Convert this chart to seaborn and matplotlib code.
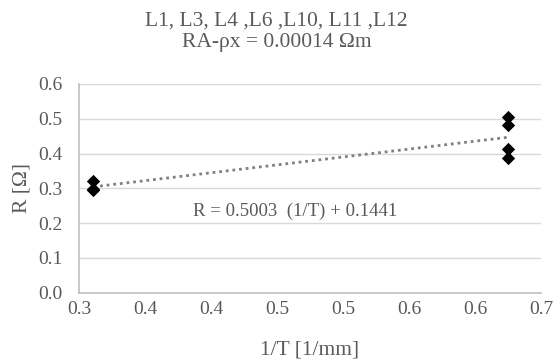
import numpy as np
import pandas as pd
import matplotlib
matplotlib.use("Agg")
import matplotlib.pyplot as plt
import seaborn as sns

# data
inv_t = [0.3125, 0.3125, 0.3125, 0.671, 0.671, 0.671, 0.671]
resistance = [0.321, 0.298, 0.294, 0.505, 0.482, 0.412, 0.388]
x_ticks = list(np.linspace(0.3, 0.7, 8))
y_ticks = [0.0, 0.1, 0.2, 0.3, 0.4, 0.5, 0.6]
title_lines = ["L1, L3, L4 ,L6 ,L10, L11 ,L12", "RA-\u03c1x = 0.00014 \u03a9m"]
equation = "R = 0.5003  (1/T) + 0.1441"

df = pd.DataFrame({"x": inv_t, "R": resistance})

sns.set_theme(style="white")
plt.rcParams["font.family"] = ["Liberation Serif", "DejaVu Serif"]
txt = "#595959"

fig = plt.figure(figsize=(5.53, 3.61), dpi=100)
ax = fig.add_axes([79 / 553, 1 - 292.7 / 361, (541 - 79) / 553, (292.7 - 84) / 361])

for y in y_ticks[1:]:
    ax.axhline(y, color="#d9d9d9", lw=1.0, zorder=0)

sns.regplot(data=df, x="x", y="R", ax=ax, scatter=False, ci=None, truncate=True,
            line_kws=dict(color="#808080", lw=2.0, linestyle=(0, (1, 1.4))))
sns.scatterplot(data=df, x="x", y="R", ax=ax, marker="D", s=46, color="black",
                edgecolor="black", linewidth=0, zorder=3)

ax.set_xlim(0.3, 0.7)
ax.set_ylim(0.0, 0.6)
ax.set_xticks(x_ticks)
ax.set_xticklabels([f"{v:.1f}" for v in x_ticks], color=txt, fontsize=14)
ax.set_yticks(y_ticks)
ax.set_yticklabels([f"{v:.1f}" for v in y_ticks], color=txt, fontsize=14)
ax.tick_params(axis="x", length=0, pad=6)
ax.tick_params(axis="y", length=0, pad=12)
ax.set_xlabel("1/T [1/mm]", color=txt, fontsize=15.5)
ax.set_ylabel("R [\u03a9]", color=txt, fontsize=15.5)
ax.xaxis.set_label_coords(0.5, -(350 - 292.7) / 208.7)
ax.yaxis.set_label_coords((22 - 79) / 462, 0.5)
ax.xaxis.label.set_va("center")
ax.yaxis.label.set_va("center")

for s in ["top", "right"]:
    ax.spines[s].set_visible(False)
for s in ["left", "bottom"]:
    ax.spines[s].set_color("#bfbfbf")
    ax.spines[s].set_linewidth(1.2)

fig.text(0.5, 1 - 21.5 / 361, title_lines[0], ha="center", va="center", color=txt, fontsize=15.5)
fig.text(0.5, 1 - 42 / 361, title_lines[1], ha="center", va="center", color=txt, fontsize=15.5)
ax.text(0.487, 0.233, equation, color=txt, fontsize=13.5, ha="center", va="center")

fig.savefig("out.png", dpi=100)
